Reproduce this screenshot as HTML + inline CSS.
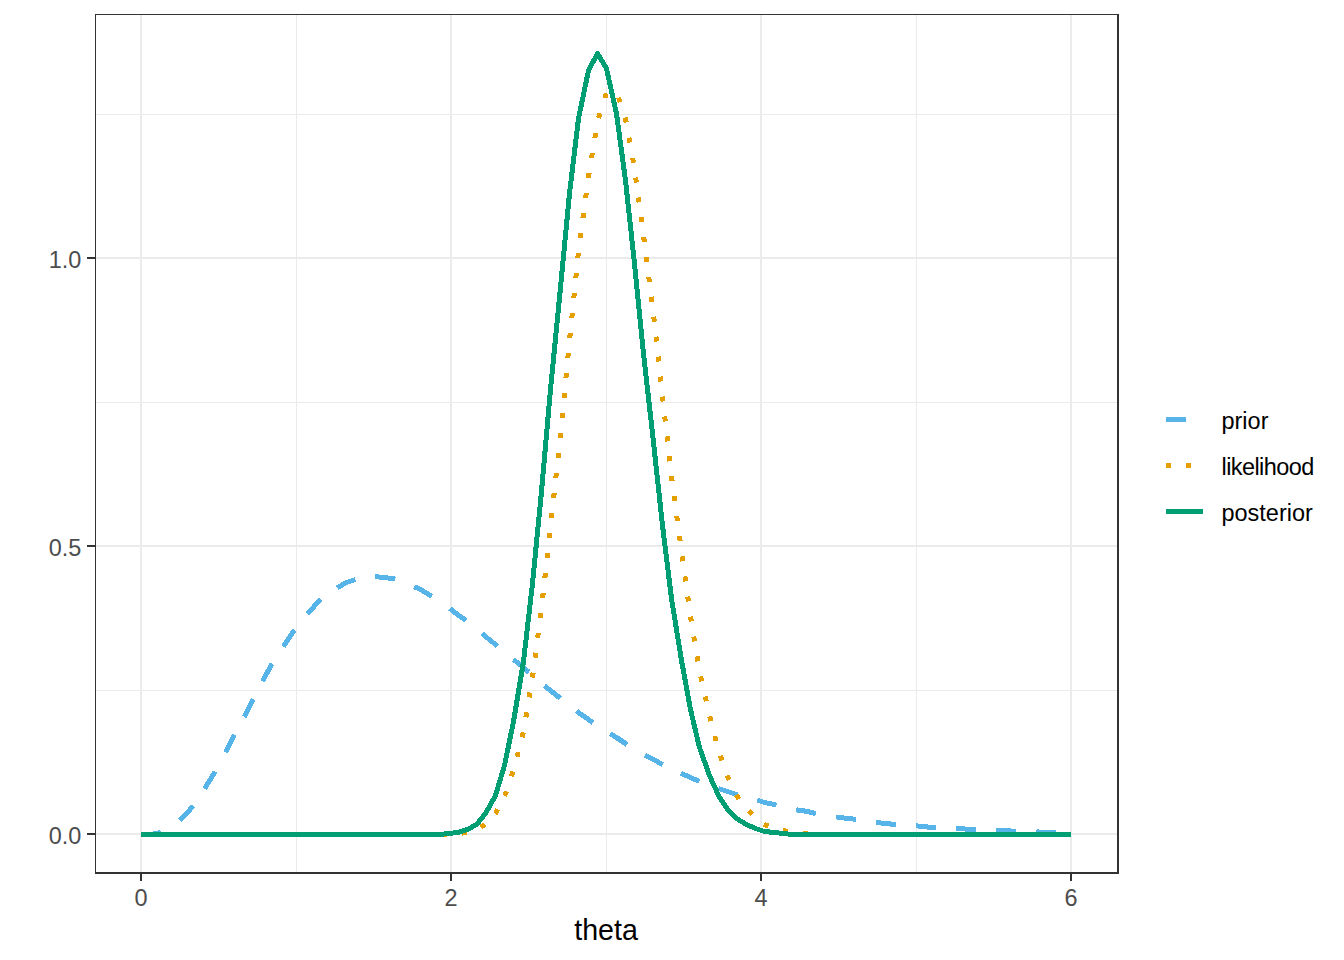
<!DOCTYPE html>
<html><head><meta charset="utf-8"><style>
html,body{margin:0;padding:0;background:#fff;}
svg{display:block;}
text{font-family:"Liberation Sans",sans-serif;}
.ax{font-size:23.47px;fill:#4d4d4d;}
.lg{font-size:23.47px;fill:#000;}
.ti{font-size:28.6px;fill:#000;}
</style></head><body>
<svg width="1344" height="960" viewBox="0 0 1344 960">
<rect width="1344" height="960" fill="#fff"/>
<g shape-rendering="crispEdges">
<rect x="95" y="690" width="1023" height="1" fill="#ebebeb"/>
<rect x="95" y="402" width="1023" height="1" fill="#ebebeb"/>
<rect x="95" y="114" width="1023" height="1" fill="#ebebeb"/>
<rect x="296" y="14" width="1" height="859" fill="#ebebeb"/>
<rect x="606" y="14" width="1" height="859" fill="#ebebeb"/>
<rect x="916" y="14" width="1" height="859" fill="#ebebeb"/>
<rect x="95" y="833" width="1023" height="2" fill="#ebebeb"/>
<rect x="95" y="545" width="1023" height="2" fill="#ebebeb"/>
<rect x="95" y="257" width="1023" height="2" fill="#ebebeb"/>
<rect x="140" y="14" width="2" height="859" fill="#ebebeb"/>
<rect x="450" y="14" width="2" height="859" fill="#ebebeb"/>
<rect x="760" y="14" width="2" height="859" fill="#ebebeb"/>
<rect x="1070" y="14" width="2" height="859" fill="#ebebeb"/>
</g>
<g fill="none" stroke-width="5" stroke-linejoin="round" stroke-linecap="butt" shape-rendering="crispEdges">
<path d="M141.5,834.5 L151.5,834.5 L160.5,832.5 L161.213,832.183 M179.582,820.418 L188.5,811.5 L192.933,805.59 M204.523,788.575 L206.5,785.5 L215.163,771.64 M225.518,752.463 L234.463,734.575 M244.269,716.915 L244.5,716.5 L253.232,699.036 M262.577,681.354 L271.5,664.5 L272.016,663.726 M283.394,646.554 L290.5,635.5 L294.404,629.861 M307.335,613.882 L309.5,611.5 L318.5,601.5 L320.987,599.289 M337.178,587.693 L337.5,587.5 L346.5,582.5 L355.35,579.55 M375.268,576.585 L383.5,577.5 L392.5,578.5 L395.049,579.265 M414.216,586.707 L420.5,589.5 L430.5,595.5 L431.778,596.21 M449.971,608.644 L457.5,614.5 L466.071,620.5 M482.071,633.452 L485.5,636.5 L495.5,644.5 L497.557,646.1 M513.472,659.475 L513.5,659.5 L523.5,667.5 L528.849,672.255 M544.479,685.817 L550.5,690.5 L560.161,698.229 M576.576,711.003 L578.5,712.5 L588.5,719.5 L592.956,722.471 M610.12,733.672 L616.5,737.5 L625.5,743.5 L626.951,744.467 M644.87,755.185 L653.5,759.5 L662.5,764.5 L662.551,764.522 M681.076,773.288 L681.5,773.5 L690.5,777.5 L699.343,781.43 M718.353,788.435 L718.5,788.5 L727.5,791.5 L736.5,794.5 L737.329,794.749 M757.023,800.008 L764.5,802.5 L774.5,804.5 L776.322,805.107 M796.296,809.88 L802.5,810.5 L811.5,812.5 L815.937,813.486 M836.139,816.828 L839.5,817.5 L848.5,818.5 L855.971,819.33 M876.011,822.446 L876.5,822.5 L885.5,823.5 L895.5,824.5 L895.903,824.5 M916.032,825.781 L922.5,826.5 L932.5,827.5 L935.942,827.5 M956.187,828.5 L960.5,828.5 L969.5,829.5 L976.131,829.5 M996.181,830.5 L997.5,830.5 L1006.5,830.5 L1015.5,831.5 L1016.13,831.5 M1036.31,831.702 L1043.5,832.5 L1053.5,832.5 L1056.27,832.5" stroke="#56B4E9"/>
<path d="M141.5,834.5 L151.5,834.5 L160.5,832.5 L161.213,832.183 M179.582,820.418 L188.5,811.5 L192.933,805.59 M204.523,788.575 L206.5,785.5 L215.163,771.64 M225.518,752.463 L234.463,734.575 M244.269,716.915 L244.5,716.5 L253.232,699.036 M262.577,681.354 L271.5,664.5 L272.016,663.726 M283.394,646.554 L290.5,635.5 L294.404,629.861 M307.335,613.882 L309.5,611.5 L318.5,601.5 L320.987,599.289 M337.178,587.693 L337.5,587.5 L346.5,582.5 L355.35,579.55 M375.268,576.585 L383.5,577.5 L392.5,578.5 L395.049,579.265 M414.216,586.707 L420.5,589.5 L430.5,595.5 L431.778,596.21 M449.971,608.644 L457.5,614.5 L466.071,620.5 M482.071,633.452 L485.5,636.5 L495.5,644.5 L497.557,646.1 M513.472,659.475 L513.5,659.5 L523.5,667.5 L528.849,672.255 M544.479,685.817 L550.5,690.5 L560.161,698.229 M576.576,711.003 L578.5,712.5 L588.5,719.5 L592.956,722.471 M610.12,733.672 L616.5,737.5 L625.5,743.5 L626.951,744.467 M644.87,755.185 L653.5,759.5 L662.5,764.5 L662.551,764.522 M681.076,773.288 L681.5,773.5 L690.5,777.5 L699.343,781.43 M718.353,788.435 L718.5,788.5 L727.5,791.5 L736.5,794.5 L737.329,794.749 M757.023,800.008 L764.5,802.5 L774.5,804.5 L776.322,805.107 M796.296,809.88 L802.5,810.5 L811.5,812.5 L815.937,813.486 M836.139,816.828 L839.5,817.5 L848.5,818.5 L855.971,819.33 M876.011,822.446 L876.5,822.5 L885.5,823.5 L895.5,824.5 L895.903,824.5 M916.032,825.781 L922.5,826.5 L932.5,827.5 L935.942,827.5 M956.187,828.5 L960.5,828.5 L969.5,829.5 L976.131,829.5 M996.181,830.5 L997.5,830.5 L1006.5,830.5 L1015.5,831.5 L1016.13,831.5 M1036.31,831.702 L1043.5,832.5 L1053.5,832.5 L1056.27,832.5" stroke="#56B4E9" stroke-linejoin="bevel"/>
<path d="M141.5,834.5 L151.5,834.5 L160.5,832.5 L161.213,832.183 M179.582,820.418 L188.5,811.5 L192.933,805.59 M204.523,788.575 L206.5,785.5 L215.163,771.64 M225.518,752.463 L234.463,734.575 M244.269,716.915 L244.5,716.5 L253.232,699.036 M262.577,681.354 L271.5,664.5 L272.016,663.726 M283.394,646.554 L290.5,635.5 L294.404,629.861 M307.335,613.882 L309.5,611.5 L318.5,601.5 L320.987,599.289 M337.178,587.693 L337.5,587.5 L346.5,582.5 L355.35,579.55 M375.268,576.585 L383.5,577.5 L392.5,578.5 L395.049,579.265 M414.216,586.707 L420.5,589.5 L430.5,595.5 L431.778,596.21 M449.971,608.644 L457.5,614.5 L466.071,620.5 M482.071,633.452 L485.5,636.5 L495.5,644.5 L497.557,646.1 M513.472,659.475 L513.5,659.5 L523.5,667.5 L528.849,672.255 M544.479,685.817 L550.5,690.5 L560.161,698.229 M576.576,711.003 L578.5,712.5 L588.5,719.5 L592.956,722.471 M610.12,733.672 L616.5,737.5 L625.5,743.5 L626.951,744.467 M644.87,755.185 L653.5,759.5 L662.5,764.5 L662.551,764.522 M681.076,773.288 L681.5,773.5 L690.5,777.5 L699.343,781.43 M718.353,788.435 L718.5,788.5 L727.5,791.5 L736.5,794.5 L737.329,794.749 M757.023,800.008 L764.5,802.5 L774.5,804.5 L776.322,805.107 M796.296,809.88 L802.5,810.5 L811.5,812.5 L815.937,813.486 M836.139,816.828 L839.5,817.5 L848.5,818.5 L855.971,819.33 M876.011,822.446 L876.5,822.5 L885.5,823.5 L895.5,824.5 L895.903,824.5 M916.032,825.781 L922.5,826.5 L932.5,827.5 L935.942,827.5 M956.187,828.5 L960.5,828.5 L969.5,829.5 L976.131,829.5 M996.181,830.5 L997.5,830.5 L1006.5,830.5 L1015.5,831.5 L1016.13,831.5 M1036.31,831.702 L1043.5,832.5 L1053.5,832.5 L1056.27,832.5" stroke="#56B4E9" stroke-width="1"/>
<path d="M141.5,834.5 L146.5,834.5 M161.527,834.5 L166.527,834.5 M181.553,834.5 L186.553,834.5 M201.58,834.5 L206.5,834.5 L206.58,834.5 M221.607,834.5 L225.5,834.5 L226.607,834.5 M241.633,834.5 L244.5,834.5 L246.633,834.5 M261.66,834.5 L262.5,834.5 L266.66,834.5 M281.687,834.5 L286.687,834.5 M301.713,834.5 L306.713,834.5 M321.74,834.5 L326.74,834.5 M341.767,834.5 L346.5,834.5 L346.767,834.5 M361.793,834.5 L364.5,834.5 L366.793,834.5 M381.82,834.5 L383.5,834.5 L386.82,834.5 M401.847,834.5 L402.5,834.5 L406.847,834.5 M421.873,834.5 L426.873,834.5 M441.9,834.5 L446.9,834.5 M461.873,833.063 L466.848,832.565 M480.79,827.117 L485.161,824.688 M495.363,813.651 L495.5,813.5 L497.744,809.261 M504.7,795.923 L506.335,791.198 M511.471,776.362 L513.107,771.637 M517.001,756.845 L518.243,752.001 M522.043,737.181 L523.285,732.337 M525.873,717.261 L526.695,712.329 M529.178,697.434 L530,692.502 M532.482,677.608 L532.5,677.5 L533.133,672.65 M535.086,657.677 L535.732,652.719 M537.685,637.746 L538.332,632.788 M540.285,617.815 L540.932,612.857 M542.664,597.891 L543.21,592.921 M544.854,577.944 L545.399,572.974 M547.043,557.997 L547.589,553.027 M549.237,538.009 L549.782,533.039 M551.432,518.022 L551.978,513.052 M553.628,498.035 L554.174,493.064 M555.824,478.047 L556.371,473.077 M558.021,458.06 L558.567,453.09 M560.217,438.072 L560.5,435.5 L560.727,433.099 M562.152,418.058 L562.624,413.081 M564.049,398.04 L564.52,393.062 M565.945,378.022 L566.417,373.044 M567.842,358.004 L568.313,353.026 M569.754,337.988 L570.257,333.013 M571.777,317.982 L572.28,313.007 M573.8,297.976 L574.303,293.002 M575.822,277.978 L576.325,273.004 M577.845,257.98 L578.348,253.006 M580.296,238.032 L580.956,233.076 M582.974,217.944 L583.635,212.987 M585.653,197.855 L586.314,192.899 M588.331,177.766 L588.5,176.5 L589.101,172.826 M591.54,157.924 L592.347,152.99 M594.786,138.088 L595.593,133.154 M598.565,118.07 L600.047,113.295 M604.819,97.918 L606.301,93.1427 M618.517,97.5499 L620.098,102.293 M625.189,117.567 L625.5,118.5 L626.212,122.453 M628.957,137.708 L629.843,142.629 M632.589,157.884 L633.475,162.805 M635.723,177.606 L636.389,182.562 M638.383,197.404 L639.048,202.359 M641.042,217.201 L641.708,222.156 M643.69,236.999 L644.318,241.96 M646.211,256.92 L646.839,261.881 M648.733,276.841 L649.361,281.802 M651.255,296.762 L651.883,301.723 M653.74,316.688 L654.286,321.658 M655.931,336.648 L656.476,341.618 M658.122,356.608 L658.667,361.578 M660.312,376.568 L660.858,381.538 M662.503,396.528 L663.062,401.497 M664.748,416.482 L665.307,421.451 M666.993,436.437 L667.552,441.405 M669.229,456.311 L669.788,461.28 M671.465,476.186 L671.5,476.5 L672.119,481.143 M674.101,496.011 L674.762,500.967 M676.782,516.117 L677.443,521.073 M679.463,536.222 L680.124,541.178 M682.168,556.324 L682.854,561.277 M684.95,576.416 L685.636,581.369 M687.732,596.507 L688.418,601.46 M690.516,616.599 L691.324,621.533 M693.77,636.484 L694.578,641.419 M697.024,656.37 L697.832,661.304 M700.628,676.462 L701.736,681.338 M705.153,696.374 L706.261,701.25 M709.701,716.281 L710.946,721.124 M714.786,736.058 L716.031,740.9 M720.302,755.705 L721.937,760.43 M727.138,775.455 L727.5,776.5 L729.167,780.019 M736.188,794.841 L736.5,795.5 L739.104,798.885 M748.953,810.953 L752.489,814.489 M763.979,824.094 L764.5,824.5 L768.529,826.112 M782.865,830.359 L783.5,830.5 L787.746,831.444 M802.58,833.5 L807.58,833.5 M822.525,834.5 L827.525,834.5 M842.525,834.5 L847.525,834.5 M862.525,834.5 L867.5,834.5 L867.525,834.5 M882.525,834.5 L885.5,834.5 L887.525,834.5 M902.525,834.5 L904.5,834.5 L907.525,834.5 M922.525,834.5 L927.525,834.5 M942.525,834.5 L947.525,834.5 M962.525,834.5 L967.525,834.5 M982.525,834.5 L987.525,834.5 M1002.52,834.5 L1006.5,834.5 L1007.52,834.5 M1022.52,834.5 L1025.5,834.5 L1027.52,834.5 M1042.52,834.5 L1043.5,834.5 L1047.52,834.5 M1062.52,834.5 L1067.52,834.5" stroke="#E69F00"/>
<path d="M141.5,834.5 L146.5,834.5 M161.527,834.5 L166.527,834.5 M181.553,834.5 L186.553,834.5 M201.58,834.5 L206.5,834.5 L206.58,834.5 M221.607,834.5 L225.5,834.5 L226.607,834.5 M241.633,834.5 L244.5,834.5 L246.633,834.5 M261.66,834.5 L262.5,834.5 L266.66,834.5 M281.687,834.5 L286.687,834.5 M301.713,834.5 L306.713,834.5 M321.74,834.5 L326.74,834.5 M341.767,834.5 L346.5,834.5 L346.767,834.5 M361.793,834.5 L364.5,834.5 L366.793,834.5 M381.82,834.5 L383.5,834.5 L386.82,834.5 M401.847,834.5 L402.5,834.5 L406.847,834.5 M421.873,834.5 L426.873,834.5 M441.9,834.5 L446.9,834.5 M461.873,833.063 L466.848,832.565 M480.79,827.117 L485.161,824.688 M495.363,813.651 L495.5,813.5 L497.744,809.261 M504.7,795.923 L506.335,791.198 M511.471,776.362 L513.107,771.637 M517.001,756.845 L518.243,752.001 M522.043,737.181 L523.285,732.337 M525.873,717.261 L526.695,712.329 M529.178,697.434 L530,692.502 M532.482,677.608 L532.5,677.5 L533.133,672.65 M535.086,657.677 L535.732,652.719 M537.685,637.746 L538.332,632.788 M540.285,617.815 L540.932,612.857 M542.664,597.891 L543.21,592.921 M544.854,577.944 L545.399,572.974 M547.043,557.997 L547.589,553.027 M549.237,538.009 L549.782,533.039 M551.432,518.022 L551.978,513.052 M553.628,498.035 L554.174,493.064 M555.824,478.047 L556.371,473.077 M558.021,458.06 L558.567,453.09 M560.217,438.072 L560.5,435.5 L560.727,433.099 M562.152,418.058 L562.624,413.081 M564.049,398.04 L564.52,393.062 M565.945,378.022 L566.417,373.044 M567.842,358.004 L568.313,353.026 M569.754,337.988 L570.257,333.013 M571.777,317.982 L572.28,313.007 M573.8,297.976 L574.303,293.002 M575.822,277.978 L576.325,273.004 M577.845,257.98 L578.348,253.006 M580.296,238.032 L580.956,233.076 M582.974,217.944 L583.635,212.987 M585.653,197.855 L586.314,192.899 M588.331,177.766 L588.5,176.5 L589.101,172.826 M591.54,157.924 L592.347,152.99 M594.786,138.088 L595.593,133.154 M598.565,118.07 L600.047,113.295 M604.819,97.918 L606.301,93.1427 M618.517,97.5499 L620.098,102.293 M625.189,117.567 L625.5,118.5 L626.212,122.453 M628.957,137.708 L629.843,142.629 M632.589,157.884 L633.475,162.805 M635.723,177.606 L636.389,182.562 M638.383,197.404 L639.048,202.359 M641.042,217.201 L641.708,222.156 M643.69,236.999 L644.318,241.96 M646.211,256.92 L646.839,261.881 M648.733,276.841 L649.361,281.802 M651.255,296.762 L651.883,301.723 M653.74,316.688 L654.286,321.658 M655.931,336.648 L656.476,341.618 M658.122,356.608 L658.667,361.578 M660.312,376.568 L660.858,381.538 M662.503,396.528 L663.062,401.497 M664.748,416.482 L665.307,421.451 M666.993,436.437 L667.552,441.405 M669.229,456.311 L669.788,461.28 M671.465,476.186 L671.5,476.5 L672.119,481.143 M674.101,496.011 L674.762,500.967 M676.782,516.117 L677.443,521.073 M679.463,536.222 L680.124,541.178 M682.168,556.324 L682.854,561.277 M684.95,576.416 L685.636,581.369 M687.732,596.507 L688.418,601.46 M690.516,616.599 L691.324,621.533 M693.77,636.484 L694.578,641.419 M697.024,656.37 L697.832,661.304 M700.628,676.462 L701.736,681.338 M705.153,696.374 L706.261,701.25 M709.701,716.281 L710.946,721.124 M714.786,736.058 L716.031,740.9 M720.302,755.705 L721.937,760.43 M727.138,775.455 L727.5,776.5 L729.167,780.019 M736.188,794.841 L736.5,795.5 L739.104,798.885 M748.953,810.953 L752.489,814.489 M763.979,824.094 L764.5,824.5 L768.529,826.112 M782.865,830.359 L783.5,830.5 L787.746,831.444 M802.58,833.5 L807.58,833.5 M822.525,834.5 L827.525,834.5 M842.525,834.5 L847.525,834.5 M862.525,834.5 L867.5,834.5 L867.525,834.5 M882.525,834.5 L885.5,834.5 L887.525,834.5 M902.525,834.5 L904.5,834.5 L907.525,834.5 M922.525,834.5 L927.525,834.5 M942.525,834.5 L947.525,834.5 M962.525,834.5 L967.525,834.5 M982.525,834.5 L987.525,834.5 M1002.52,834.5 L1006.5,834.5 L1007.52,834.5 M1022.52,834.5 L1025.5,834.5 L1027.52,834.5 M1042.52,834.5 L1043.5,834.5 L1047.52,834.5 M1062.52,834.5 L1067.52,834.5" stroke="#E69F00" stroke-linejoin="bevel"/>
<path d="M141.5,834.5 L146.5,834.5 M161.527,834.5 L166.527,834.5 M181.553,834.5 L186.553,834.5 M201.58,834.5 L206.5,834.5 L206.58,834.5 M221.607,834.5 L225.5,834.5 L226.607,834.5 M241.633,834.5 L244.5,834.5 L246.633,834.5 M261.66,834.5 L262.5,834.5 L266.66,834.5 M281.687,834.5 L286.687,834.5 M301.713,834.5 L306.713,834.5 M321.74,834.5 L326.74,834.5 M341.767,834.5 L346.5,834.5 L346.767,834.5 M361.793,834.5 L364.5,834.5 L366.793,834.5 M381.82,834.5 L383.5,834.5 L386.82,834.5 M401.847,834.5 L402.5,834.5 L406.847,834.5 M421.873,834.5 L426.873,834.5 M441.9,834.5 L446.9,834.5 M461.873,833.063 L466.848,832.565 M480.79,827.117 L485.161,824.688 M495.363,813.651 L495.5,813.5 L497.744,809.261 M504.7,795.923 L506.335,791.198 M511.471,776.362 L513.107,771.637 M517.001,756.845 L518.243,752.001 M522.043,737.181 L523.285,732.337 M525.873,717.261 L526.695,712.329 M529.178,697.434 L530,692.502 M532.482,677.608 L532.5,677.5 L533.133,672.65 M535.086,657.677 L535.732,652.719 M537.685,637.746 L538.332,632.788 M540.285,617.815 L540.932,612.857 M542.664,597.891 L543.21,592.921 M544.854,577.944 L545.399,572.974 M547.043,557.997 L547.589,553.027 M549.237,538.009 L549.782,533.039 M551.432,518.022 L551.978,513.052 M553.628,498.035 L554.174,493.064 M555.824,478.047 L556.371,473.077 M558.021,458.06 L558.567,453.09 M560.217,438.072 L560.5,435.5 L560.727,433.099 M562.152,418.058 L562.624,413.081 M564.049,398.04 L564.52,393.062 M565.945,378.022 L566.417,373.044 M567.842,358.004 L568.313,353.026 M569.754,337.988 L570.257,333.013 M571.777,317.982 L572.28,313.007 M573.8,297.976 L574.303,293.002 M575.822,277.978 L576.325,273.004 M577.845,257.98 L578.348,253.006 M580.296,238.032 L580.956,233.076 M582.974,217.944 L583.635,212.987 M585.653,197.855 L586.314,192.899 M588.331,177.766 L588.5,176.5 L589.101,172.826 M591.54,157.924 L592.347,152.99 M594.786,138.088 L595.593,133.154 M598.565,118.07 L600.047,113.295 M604.819,97.918 L606.301,93.1427 M618.517,97.5499 L620.098,102.293 M625.189,117.567 L625.5,118.5 L626.212,122.453 M628.957,137.708 L629.843,142.629 M632.589,157.884 L633.475,162.805 M635.723,177.606 L636.389,182.562 M638.383,197.404 L639.048,202.359 M641.042,217.201 L641.708,222.156 M643.69,236.999 L644.318,241.96 M646.211,256.92 L646.839,261.881 M648.733,276.841 L649.361,281.802 M651.255,296.762 L651.883,301.723 M653.74,316.688 L654.286,321.658 M655.931,336.648 L656.476,341.618 M658.122,356.608 L658.667,361.578 M660.312,376.568 L660.858,381.538 M662.503,396.528 L663.062,401.497 M664.748,416.482 L665.307,421.451 M666.993,436.437 L667.552,441.405 M669.229,456.311 L669.788,461.28 M671.465,476.186 L671.5,476.5 L672.119,481.143 M674.101,496.011 L674.762,500.967 M676.782,516.117 L677.443,521.073 M679.463,536.222 L680.124,541.178 M682.168,556.324 L682.854,561.277 M684.95,576.416 L685.636,581.369 M687.732,596.507 L688.418,601.46 M690.516,616.599 L691.324,621.533 M693.77,636.484 L694.578,641.419 M697.024,656.37 L697.832,661.304 M700.628,676.462 L701.736,681.338 M705.153,696.374 L706.261,701.25 M709.701,716.281 L710.946,721.124 M714.786,736.058 L716.031,740.9 M720.302,755.705 L721.937,760.43 M727.138,775.455 L727.5,776.5 L729.167,780.019 M736.188,794.841 L736.5,795.5 L739.104,798.885 M748.953,810.953 L752.489,814.489 M763.979,824.094 L764.5,824.5 L768.529,826.112 M782.865,830.359 L783.5,830.5 L787.746,831.444 M802.58,833.5 L807.58,833.5 M822.525,834.5 L827.525,834.5 M842.525,834.5 L847.525,834.5 M862.525,834.5 L867.5,834.5 L867.525,834.5 M882.525,834.5 L885.5,834.5 L887.525,834.5 M902.525,834.5 L904.5,834.5 L907.525,834.5 M922.525,834.5 L927.525,834.5 M942.525,834.5 L947.525,834.5 M962.525,834.5 L967.525,834.5 M982.525,834.5 L987.525,834.5 M1002.52,834.5 L1006.5,834.5 L1007.52,834.5 M1022.52,834.5 L1025.5,834.5 L1027.52,834.5 M1042.52,834.5 L1043.5,834.5 L1047.52,834.5 M1062.52,834.5 L1067.52,834.5" stroke="#E69F00" stroke-width="1"/>
<path d="M140.5,834.5 L151.5,834.5 L160.5,834.5 L169.5,834.5 L178.5,834.5 L188.5,834.5 L197.5,834.5 L206.5,834.5 L216.5,834.5 L225.5,834.5 L234.5,834.5 L244.5,834.5 L253.5,834.5 L262.5,834.5 L271.5,834.5 L281.5,834.5 L290.5,834.5 L299.5,834.5 L309.5,834.5 L318.5,834.5 L327.5,834.5 L337.5,834.5 L346.5,834.5 L355.5,834.5 L364.5,834.5 L374.5,834.5 L383.5,834.5 L392.5,834.5 L402.5,834.5 L411.5,834.5 L420.5,834.5 L430.5,834.5 L439.5,834.5 L448.5,833.5 L457.5,832.5 L467.5,829.5 L476.5,824.5 L485.5,813.5 L495.5,795.5 L504.5,765.5 L513.5,721.5 L523.5,661.5 L532.5,583.5 L541.5,491.5 L550.5,389.5 L560.5,287.5 L569.5,193.5 L578.5,118.5 L588.5,70.5 L597.5,53.5 L606.5,68.5 L616.5,113.5 L625.5,180.5 L634.5,263.5 L643.5,353.5 L653.5,442.5 L662.5,525.5 L671.5,598.5 L681.5,660.5 L690.5,709.5 L699.5,747.5 L709.5,775.5 L718.5,795.5 L727.5,809.5 L736.5,818.5 L746.5,824.5 L755.5,828.5 L764.5,831.5 L774.5,832.5 L783.5,833.5 L792.5,834.5 L802.5,834.5 L811.5,834.5 L820.5,834.5 L829.5,834.5 L839.5,834.5 L848.5,834.5 L857.5,834.5 L867.5,834.5 L876.5,834.5 L885.5,834.5 L895.5,834.5 L904.5,834.5 L913.5,834.5 L922.5,834.5 L932.5,834.5 L941.5,834.5 L950.5,834.5 L960.5,834.5 L969.5,834.5 L978.5,834.5 L988.5,834.5 L997.5,834.5 L1006.5,834.5 L1015.5,834.5 L1025.5,834.5 L1034.5,834.5 L1043.5,834.5 L1053.5,834.5 L1062.5,834.5 L1070.5,834.5" stroke="#009E73"/>
<path d="M140.5,834.5 L151.5,834.5 L160.5,834.5 L169.5,834.5 L178.5,834.5 L188.5,834.5 L197.5,834.5 L206.5,834.5 L216.5,834.5 L225.5,834.5 L234.5,834.5 L244.5,834.5 L253.5,834.5 L262.5,834.5 L271.5,834.5 L281.5,834.5 L290.5,834.5 L299.5,834.5 L309.5,834.5 L318.5,834.5 L327.5,834.5 L337.5,834.5 L346.5,834.5 L355.5,834.5 L364.5,834.5 L374.5,834.5 L383.5,834.5 L392.5,834.5 L402.5,834.5 L411.5,834.5 L420.5,834.5 L430.5,834.5 L439.5,834.5 L448.5,833.5 L457.5,832.5 L467.5,829.5 L476.5,824.5 L485.5,813.5 L495.5,795.5 L504.5,765.5 L513.5,721.5 L523.5,661.5 L532.5,583.5 L541.5,491.5 L550.5,389.5 L560.5,287.5 L569.5,193.5 L578.5,118.5 L588.5,70.5 L597.5,53.5 L606.5,68.5 L616.5,113.5 L625.5,180.5 L634.5,263.5 L643.5,353.5 L653.5,442.5 L662.5,525.5 L671.5,598.5 L681.5,660.5 L690.5,709.5 L699.5,747.5 L709.5,775.5 L718.5,795.5 L727.5,809.5 L736.5,818.5 L746.5,824.5 L755.5,828.5 L764.5,831.5 L774.5,832.5 L783.5,833.5 L792.5,834.5 L802.5,834.5 L811.5,834.5 L820.5,834.5 L829.5,834.5 L839.5,834.5 L848.5,834.5 L857.5,834.5 L867.5,834.5 L876.5,834.5 L885.5,834.5 L895.5,834.5 L904.5,834.5 L913.5,834.5 L922.5,834.5 L932.5,834.5 L941.5,834.5 L950.5,834.5 L960.5,834.5 L969.5,834.5 L978.5,834.5 L988.5,834.5 L997.5,834.5 L1006.5,834.5 L1015.5,834.5 L1025.5,834.5 L1034.5,834.5 L1043.5,834.5 L1053.5,834.5 L1062.5,834.5 L1070.5,834.5" stroke="#009E73" stroke-linejoin="bevel"/>
<path d="M140.5,834.5 L151.5,834.5 L160.5,834.5 L169.5,834.5 L178.5,834.5 L188.5,834.5 L197.5,834.5 L206.5,834.5 L216.5,834.5 L225.5,834.5 L234.5,834.5 L244.5,834.5 L253.5,834.5 L262.5,834.5 L271.5,834.5 L281.5,834.5 L290.5,834.5 L299.5,834.5 L309.5,834.5 L318.5,834.5 L327.5,834.5 L337.5,834.5 L346.5,834.5 L355.5,834.5 L364.5,834.5 L374.5,834.5 L383.5,834.5 L392.5,834.5 L402.5,834.5 L411.5,834.5 L420.5,834.5 L430.5,834.5 L439.5,834.5 L448.5,833.5 L457.5,832.5 L467.5,829.5 L476.5,824.5 L485.5,813.5 L495.5,795.5 L504.5,765.5 L513.5,721.5 L523.5,661.5 L532.5,583.5 L541.5,491.5 L550.5,389.5 L560.5,287.5 L569.5,193.5 L578.5,118.5 L588.5,70.5 L597.5,53.5 L606.5,68.5 L616.5,113.5 L625.5,180.5 L634.5,263.5 L643.5,353.5 L653.5,442.5 L662.5,525.5 L671.5,598.5 L681.5,660.5 L690.5,709.5 L699.5,747.5 L709.5,775.5 L718.5,795.5 L727.5,809.5 L736.5,818.5 L746.5,824.5 L755.5,828.5 L764.5,831.5 L774.5,832.5 L783.5,833.5 L792.5,834.5 L802.5,834.5 L811.5,834.5 L820.5,834.5 L829.5,834.5 L839.5,834.5 L848.5,834.5 L857.5,834.5 L867.5,834.5 L876.5,834.5 L885.5,834.5 L895.5,834.5 L904.5,834.5 L913.5,834.5 L922.5,834.5 L932.5,834.5 L941.5,834.5 L950.5,834.5 L960.5,834.5 L969.5,834.5 L978.5,834.5 L988.5,834.5 L997.5,834.5 L1006.5,834.5 L1015.5,834.5 L1025.5,834.5 L1034.5,834.5 L1043.5,834.5 L1053.5,834.5 L1062.5,834.5 L1070.5,834.5" stroke="#009E73" stroke-width="1"/>
</g>
<g shape-rendering="crispEdges">
<rect x="95" y="14" width="1" height="860" fill="#333333"/>
<rect x="95" y="14" width="1024" height="1" fill="#333333"/>
<rect x="1117" y="14" width="2" height="860" fill="#333333"/>
<rect x="95" y="872" width="1024" height="2" fill="#333333"/>
<rect x="87" y="833" width="8" height="2" fill="#333333"/>
<rect x="87" y="545" width="8" height="2" fill="#333333"/>
<rect x="87" y="257" width="8" height="2" fill="#333333"/>
<rect x="140" y="873" width="2" height="8" fill="#333333"/>
<rect x="450" y="873" width="2" height="8" fill="#333333"/>
<rect x="760" y="873" width="2" height="8" fill="#333333"/>
<rect x="1070" y="873" width="2" height="8" fill="#333333"/>
<rect x="1166" y="417" width="20" height="5" fill="#56B4E9"/>
<rect x="1166" y="463" width="5" height="5" fill="#E69F00"/>
<rect x="1186" y="463" width="5" height="5" fill="#E69F00"/>
<rect x="1166" y="509" width="37" height="5" fill="#009E73"/>
</g>
<text x="81.4" y="844.0" text-anchor="end" class="ax">0.0</text>
<text x="81.4" y="556.0" text-anchor="end" class="ax">0.5</text>
<text x="81.4" y="268.0" text-anchor="end" class="ax">1.0</text>
<text x="141" y="906" text-anchor="middle" class="ax">0</text>
<text x="451" y="906" text-anchor="middle" class="ax">2</text>
<text x="761" y="906" text-anchor="middle" class="ax">4</text>
<text x="1071" y="906" text-anchor="middle" class="ax">6</text>
<text x="606" y="940" text-anchor="middle" class="ti">theta</text>
<text x="1221.5" y="428.7" class="lg">prior</text>
<text x="1221.5" y="474.7" class="lg" textLength="92.7" lengthAdjust="spacing">likelihood</text>
<text x="1221.5" y="520.7" class="lg">posterior</text>
</svg>
</body></html>
